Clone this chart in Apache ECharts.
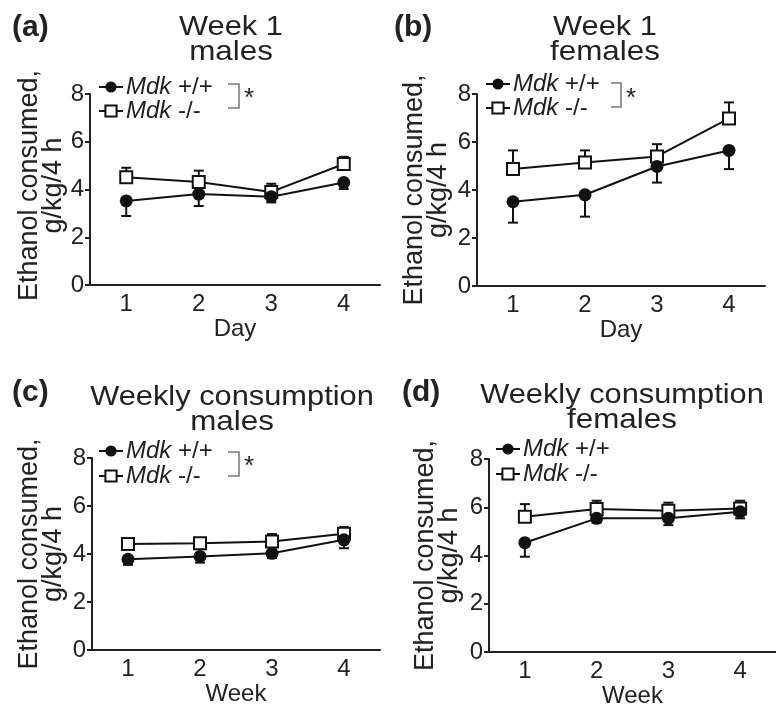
<!DOCTYPE html>
<html><head><meta charset="utf-8">
<script src="https://cdn.jsdelivr.net/npm/echarts@6/dist/echarts.min.js"></script>
<style>html,body{margin:0;padding:0;background:#fff}#c{width:776px;height:709px}</style>
</head><body><div id="c"></div>
<script>
// ---- data ----
const categories = ['1', '2', '3', '4'];
const yTicks = [0, 2, 4, 6, 8];
const xNames = ['Day', 'Day', 'Week', 'Week'];
const panelLabels = ['(a)', '(b)', '(c)', '(d)'];
const titlesLine1 = ['Week 1', 'Week 1', 'Weekly consumption', 'Weekly consumption'];
const titlesLine2 = ['males', 'females', 'males', 'females'];
const legendWT = 'Mdk +/+';
const legendKO = 'Mdk -/-';

// (a) Week 1 males
const aWT = [3.52, 3.81, 3.70, 4.29];
const aWTsem = [0.63, 0.50, 0.24, 0.27];
const aKO = [4.51, 4.31, 3.90, 5.07];
const aKOsem = [0.40, 0.48, 0.34, 0.30];
// (b) Week 1 females
const bWT = [3.51, 3.80, 4.98, 5.65];
const bWTsem = [0.87, 0.91, 0.67, 0.78];
const bKO = [4.87, 5.15, 5.40, 6.98];
const bKOsem = [0.78, 0.50, 0.51, 0.67];
// (c) Weekly consumption males
const cWT = [3.78, 3.90, 4.03, 4.59];
const cWTsem = [0.23, 0.26, 0.20, 0.35];
const cKO = [4.42, 4.45, 4.52, 4.84];
const cKOsem = [0.10, 0.14, 0.31, 0.28];
// (d) Weekly consumption females
const dWT = [4.53, 5.54, 5.54, 5.81];
const dWTsem = [0.58, 0.18, 0.28, 0.27];
const dKO = [5.61, 5.93, 5.86, 5.95];
const dKOsem = [0.52, 0.34, 0.33, 0.32];
const significant = [true, true, true, false];

// ---- chart ----
const FONT = '"Liberation Sans", Arial, sans-serif';
const INK = '#222';
const panels = [
  {wt: aWT, wtSem: aWTsem, ko: aKO, koSem: aKOsem},
  {wt: bWT, wtSem: bWTsem, ko: bKO, koSem: bKOsem},
  {wt: cWT, wtSem: cWTsem, ko: cKO, koSem: cKOsem},
  {wt: dWT, wtSem: dWTsem, ko: dKO, koSem: dKOsem}
];
const grids = [
  {left: 90, top: 94, width: 290, height: 191},
  {left: 477, top: 94, width: 288, height: 192},
  {left: 92, top: 458, width: 288, height: 192},
  {left: 489, top: 459, width: 288, height: 193}
];
const yNameGap = [22, 26, 26, 27];
const yNameShift = [8, 0, 0, 0];
const legendPos = [
  {left: 98, top: 75, gap: 0},
  {left: 485, top: 72, gap: 0},
  {left: 98, top: 439, gap: 1},
  {left: 495, top: 437, gap: 1}
];
const titlePos = [
  {x: 231, y1: 27, y2: 52},
  {x: 605, y1: 27, y2: 52},
  {x: 232, y1: 397, y2: 422},
  {x: 622, y1: 395, y2: 420}
];
const labelPos = [{x: 12, y: 28}, {x: 394, y: 28}, {x: 12, y: 393}, {x: 402, y: 393}];
const bracketPos = [
  {x0: 228, x1: 239, y0: 84, y1: 108, sx: 244, sy: 86},
  {x0: 611, x1: 621, y0: 83, y1: 107, sx: 626, sy: 86},
  {x0: 228, x1: 239, y0: 452, y1: 476, sx: 244, sy: 454},
  null
];

function errRender() {
  return function (params, api) {
    const p0 = api.coord([api.value(0), api.value(1)]);
    const p1 = api.coord([api.value(0), api.value(2)]);
    const hw = 5;
    return {
      type: 'group',
      children: [
        {type: 'line', shape: {x1: p0[0], y1: p0[1], x2: p1[0], y2: p1[1]}, style: {stroke: '#111', lineWidth: 2}},
        {type: 'line', shape: {x1: p1[0] - hw, y1: p1[1], x2: p1[0] + hw, y2: p1[1]}, style: {stroke: '#111', lineWidth: 2}}
      ]
    };
  };
}

const option = {
  animation: false,
  backgroundColor: '#fff',
  textStyle: {fontFamily: FONT},
  grid: grids.map(g => Object.assign({containLabel: false}, g)),
  xAxis: grids.map((g, i) => ({
    gridIndex: i, type: 'category', data: categories, boundaryGap: true,
    axisLine: {lineStyle: {color: INK, width: 2}},
    axisTick: {alignWithLabel: true, length: 7, lineStyle: {color: INK, width: 2}},
    axisLabel: {fontSize: 24, color: INK, margin: 7, fontFamily: FONT},
    splitLine: {show: false},
    name: xNames[i], nameLocation: 'middle', nameGap: 29,
    nameTextStyle: {fontSize: 24, color: INK, fontFamily: FONT}
  })),
  yAxis: grids.map((g, i) => ({
    gridIndex: i, type: 'value', min: yTicks[0], max: yTicks[yTicks.length - 1], interval: yTicks[1] - yTicks[0],
    axisLine: {show: true, lineStyle: {color: INK, width: 2}},
    axisTick: {show: true, length: 5, lineStyle: {color: INK, width: 2}},
    axisLabel: {fontSize: 24, color: INK, margin: 6, fontFamily: FONT},
    splitLine: {show: false},
    name: 'Ethanol consumed,\ng/kg/4 h', nameLocation: 'middle', nameRotate: 90, nameGap: yNameGap[i],
    nameTextStyle: {fontSize: 27, lineHeight: 24, color: INK, fontFamily: FONT, padding: [0, 0, 0, yNameShift[i]]}
  })),
  legend: legendPos.map((l, i) => ({
    left: l.left, top: l.top, orient: 'vertical', itemGap: l.gap, padding: 0,
    itemWidth: 24, itemHeight: 14,
    data: ['wt' + i, 'ko' + i],
    formatter: n => n.startsWith('wt') ? '{i|Mdk} +/+' : '{i|Mdk} -/-',
    textStyle: {fontSize: 24, color: INK, fontFamily: FONT, lineHeight: 22, padding: [0, 0, 0, -2],
      rich: {i: {fontStyle: 'italic', fontSize: 24, color: INK, fontFamily: FONT}}},
    selectedMode: false
  })),
  series: [],
  graphic: []
};

panels.forEach((p, i) => {
  option.series.push({
    type: 'custom', xAxisIndex: i, yAxisIndex: i, z: 1, silent: true,
    renderItem: errRender(),
    data: p.wt.map((v, k) => [k, v, v - p.wtSem[k]])
  });
  option.series.push({
    type: 'custom', xAxisIndex: i, yAxisIndex: i, z: 1, silent: true,
    renderItem: errRender(),
    data: p.ko.map((v, k) => [k, v, v + p.koSem[k]])
  });
  option.series.push({
    name: 'ko' + i, type: 'line', xAxisIndex: i, yAxisIndex: i, z: 3,
    data: p.ko, symbol: 'rect', symbolSize: 12,
    lineStyle: {color: '#111', width: 2},
    itemStyle: {color: '#fff', borderColor: '#111', borderWidth: 2}
  });
  option.series.push({
    name: 'wt' + i, type: 'line', xAxisIndex: i, yAxisIndex: i, z: 4,
    data: p.wt, symbol: 'circle', symbolSize: 13,
    lineStyle: {color: '#111', width: 2},
    itemStyle: {color: '#111', borderColor: '#111', borderWidth: 0}
  });
  // titles (reference lettering is slightly wider than Liberation Sans)
  const tp = titlePos[i];
  option.graphic.push({type: 'text', x: tp.x, y: tp.y1, scaleX: 1.1, style: {text: titlesLine1[i], x: 0, y: 0, align: 'center', verticalAlign: 'middle', font: '28px ' + FONT, fill: INK}});
  option.graphic.push({type: 'text', x: tp.x, y: tp.y2, scaleX: 1.12, style: {text: titlesLine2[i], x: 0, y: 0, align: 'center', verticalAlign: 'middle', font: '28px ' + FONT, fill: INK}});
  option.graphic.push({type: 'text', style: {text: panelLabels[i], x: labelPos[i].x, y: labelPos[i].y, align: 'left', verticalAlign: 'middle', font: 'bold 30px ' + FONT, fill: INK}});
  const b = bracketPos[i];
  if (significant[i] && b) {
    option.graphic.push({type: 'polyline', shape: {points: [[b.x0, b.y0], [b.x1, b.y0], [b.x1, b.y1], [b.x0, b.y1]]}, style: {stroke: '#777', lineWidth: 1.5, fill: null}});
    option.graphic.push({type: 'text', style: {text: '*', x: b.sx, y: b.sy, align: 'left', verticalAlign: 'top', font: '26px ' + FONT, fill: INK}});
  }
});

const chart = echarts.init(document.getElementById('c'), null, {renderer: 'canvas'});
chart.setOption(option);
</script>
</body></html>
